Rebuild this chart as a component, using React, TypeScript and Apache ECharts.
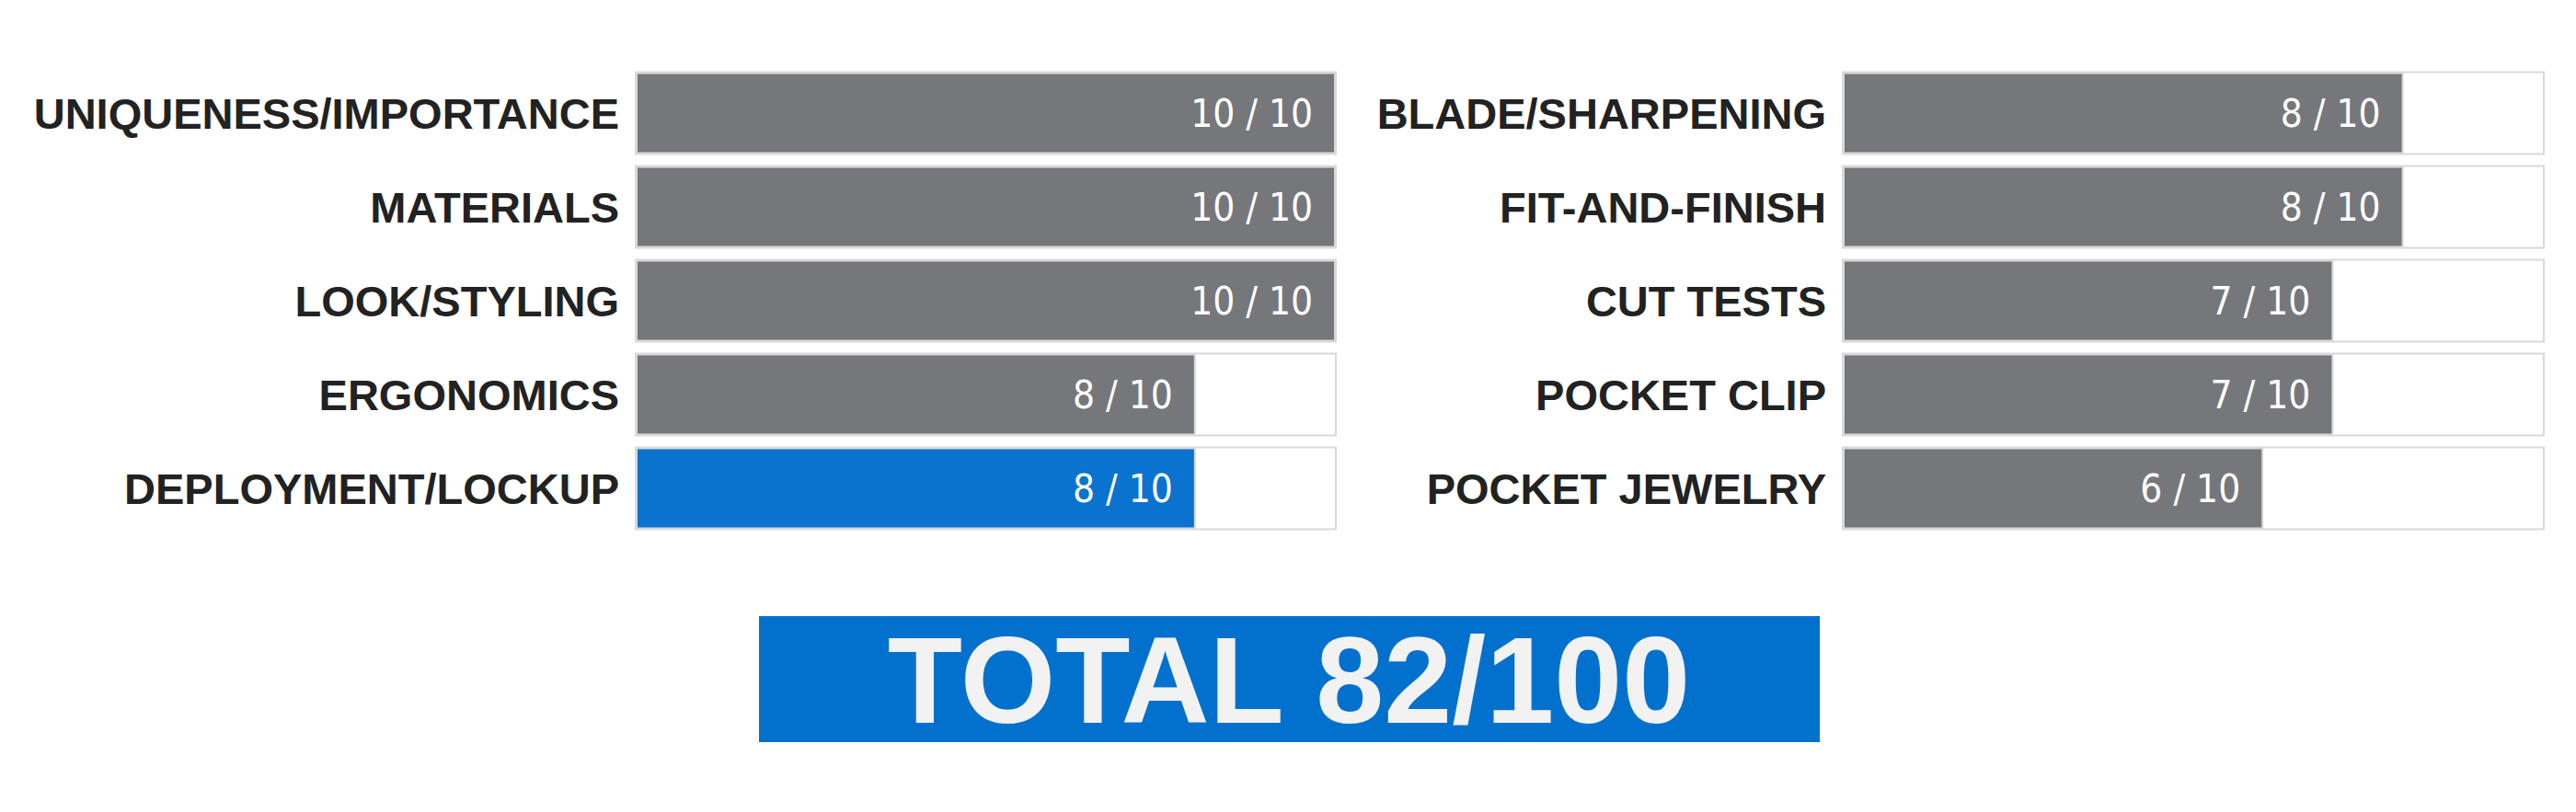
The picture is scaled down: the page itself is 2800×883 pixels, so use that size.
import {useEffect, useRef} from 'react';
import * as echarts from 'echarts';

const leftCategories = ['UNIQUENESS/IMPORTANCE', 'MATERIALS', 'LOOK/STYLING', 'ERGONOMICS', 'DEPLOYMENT/LOCKUP'];
const leftScores = [10, 10, 10, 8, 8];
const rightCategories = ['BLADE/SHARPENING', 'FIT-AND-FINISH', 'CUT TESTS', 'POCKET CLIP', 'POCKET JEWELRY'];
const rightScores = [8, 8, 7, 7, 6];
const highlighted = ['DEPLOYMENT/LOCKUP'];
const maxScore = 10;

const GRAY = '#76777b';
const BLUE = '#0a72cf';
const BORDER = '#d9d9d9';

const total = [...leftScores, ...rightScores].reduce((a, b) => a + b, 0);

const barSeries = (cats: string[], scores: number[], idx: number) => ({
    type: 'bar',
    xAxisIndex: idx,
    yAxisIndex: idx,
    barWidth: 89,
    showBackground: true,
    backgroundStyle: {color: '#ffffff', borderColor: BORDER, borderWidth: 2},
    itemStyle: {borderColor: BORDER, borderWidth: 2},
    label: {
        show: true,
        position: 'insideRight',
        distance: 25,
        formatter: (p: any) => `${p.value} / ${maxScore}`,
        color: '#ffffff',
        fontFamily: '"Liberation Sans Narrow", "DejaVu Sans Condensed", sans-serif',
        fontSize: 42,
    },
    data: scores.map((v, i) => ({
        value: v,
        itemStyle: {color: highlighted.includes(cats[i]) ? BLUE : GRAY},
    })),
});

const App = () => {
    const chartRef = useRef(null);

    useEffect(() => {
        const myChart = echarts.init(chartRef.current!, null, {renderer: 'svg'});

        const catAxis = (cats: string[], idx: number) => ({
            type: 'category',
            gridIndex: idx,
            data: cats,
            inverse: true,
            axisLine: {show: false},
            axisTick: {show: false},
            axisLabel: {
                margin: 18,
                color: '#222222',
                fontFamily: '"Liberation Sans", Arial, sans-serif',
                fontWeight: 'bold',
                fontSize: 47,
            },
        });
        const valAxis = (idx: number) => ({
            type: 'value',
            gridIndex: idx,
            min: 0,
            max: maxScore,
            show: false,
        });

        myChart.setOption({
            animation: false,
            grid: [
                {left: 691, top: 72, width: 761, height: 510},
                {left: 2003, top: 72, width: 762, height: 510},
            ],
            xAxis: [valAxis(0), valAxis(1)],
            yAxis: [catAxis(leftCategories, 0), catAxis(rightCategories, 1)],
            series: [barSeries(leftCategories, leftScores, 0), barSeries(rightCategories, rightScores, 1)],
            graphic: [
                {
                    type: 'rect',
                    shape: {x: 825, y: 670, width: 1153, height: 137},
                    style: {fill: '#0271ce'},
                },
                {
                    type: 'text',
                    x: 1401,
                    y: 740,
                    style: {
                        text: `TOTAL ${total}/100`,
                        fill: '#f2f2f2',
                        font: 'bold 133px "Liberation Sans", Arial, sans-serif',
                        align: 'center',
                        verticalAlign: 'middle',
                    },
                },
            ],
        });

        return () => {
            myChart.dispose();
        };
    }, []);

    return (
        <div
            ref={chartRef}
            style={{position: 'fixed', left: 0, top: 0, width: '2800px', height: '883px', background: '#ffffff'}}
        />
    );
};

export default App;
